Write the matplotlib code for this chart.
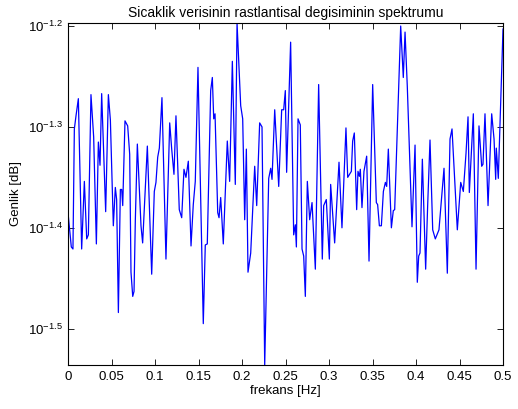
import numpy as np
import matplotlib
matplotlib.use("Agg")
import matplotlib.pyplot as plt

# frequency [Hz] and log10 of amplitude
freq = [0.0000, 0.0038, 0.0057, 0.0073, 0.0092, 0.0119, 0.0157, 0.0188, 0.0215, 0.0234,
        0.0264, 0.0295, 0.0326, 0.0349, 0.0368, 0.0387, 0.0433, 0.0464, 0.0487, 0.0521,
        0.0544, 0.0559, 0.0579, 0.0602, 0.0617, 0.0629, 0.0655, 0.0686, 0.0709, 0.0724,
        0.0744, 0.0759, 0.0774, 0.0797, 0.0839, 0.0858, 0.0912, 0.0962, 0.0992, 0.1011,
        0.1031, 0.1050, 0.1080, 0.1126, 0.1169, 0.1192, 0.1218, 0.1241, 0.1279, 0.1307,
        0.1333, 0.1356, 0.1383, 0.1414, 0.1440, 0.1463, 0.1494, 0.1555, 0.1578, 0.1601,
        0.1640, 0.1659, 0.1675, 0.1690, 0.1721, 0.1736, 0.1755, 0.1785, 0.1831, 0.1858,
        0.1889, 0.1923, 0.1943, 0.1985, 0.2008, 0.2031, 0.2050, 0.2069, 0.2100, 0.2146,
        0.2169, 0.2203, 0.2230, 0.2261, 0.2307, 0.2330, 0.2345, 0.2376, 0.2422, 0.2456,
        0.2479, 0.2498, 0.2513, 0.2559, 0.2594, 0.2613, 0.2625, 0.2644, 0.2670, 0.2690,
        0.2709, 0.2728, 0.2751, 0.2778, 0.2805, 0.2843, 0.2881, 0.2923, 0.2939, 0.2969,
        0.3004, 0.3019, 0.3065, 0.3115, 0.3149, 0.3195, 0.3215, 0.3257, 0.3272, 0.3291,
        0.3318, 0.3333, 0.3349, 0.3360, 0.3379, 0.3402, 0.3433, 0.3460, 0.3502, 0.3544,
        0.3559, 0.3579, 0.3602, 0.3625, 0.3648, 0.3663, 0.3682, 0.3717, 0.3739, 0.3755,
        0.3824, 0.3854, 0.3874, 0.3900, 0.3954, 0.3989, 0.4015, 0.4031, 0.4046, 0.4073,
        0.4111, 0.4134, 0.4161, 0.4192, 0.4222, 0.4264, 0.4322, 0.4360, 0.4391, 0.4414,
        0.4475, 0.4514, 0.4544, 0.4575, 0.4598, 0.4613, 0.4659, 0.4690, 0.4724, 0.4755,
        0.4770, 0.4793, 0.4828, 0.4870, 0.4897, 0.4916, 0.4923, 0.4946, 0.5000]
log_amp = [-1.385, -1.419, -1.421, -1.302, -1.289, -1.272, -1.421, -1.354, -1.411, -1.407,
           -1.268, -1.310, -1.416, -1.315, -1.338, -1.267, -1.384, -1.268, -1.293, -1.398,
           -1.360, -1.372, -1.484, -1.362, -1.362, -1.378, -1.294, -1.299, -1.327, -1.444,
           -1.468, -1.463, -1.392, -1.317, -1.398, -1.415, -1.319, -1.446, -1.364, -1.355,
           -1.330, -1.321, -1.271, -1.431, -1.296, -1.322, -1.347, -1.289, -1.382, -1.390,
           -1.342, -1.350, -1.334, -1.418, -1.377, -1.354, -1.241, -1.495, -1.417, -1.416,
           -1.264, -1.251, -1.292, -1.287, -1.385, -1.390, -1.370, -1.416, -1.314, -1.354,
           -1.235, -1.357, -1.197, -1.279, -1.292, -1.392, -1.322, -1.444, -1.425, -1.339,
           -1.378, -1.296, -1.300, -1.536, -1.351, -1.341, -1.352, -1.283, -1.359, -1.283,
           -1.283, -1.264, -1.345, -1.216, -1.407, -1.397, -1.419, -1.292, -1.298, -1.421,
           -1.428, -1.468, -1.354, -1.392, -1.375, -1.441, -1.258, -1.431, -1.378, -1.372,
           -1.431, -1.357, -1.415, -1.335, -1.400, -1.301, -1.350, -1.344, -1.314, -1.306,
           -1.382, -1.344, -1.349, -1.342, -1.380, -1.344, -1.329, -1.433, -1.258, -1.375,
           -1.377, -1.398, -1.398, -1.364, -1.355, -1.359, -1.322, -1.400, -1.383, -1.382,
           -1.200, -1.251, -1.206, -1.260, -1.399, -1.318, -1.454, -1.428, -1.425, -1.332,
           -1.441, -1.378, -1.313, -1.402, -1.411, -1.402, -1.341, -1.445, -1.312, -1.302,
           -1.402, -1.355, -1.364, -1.326, -1.290, -1.365, -1.287, -1.441, -1.299, -1.339,
           -1.337, -1.287, -1.378, -1.287, -1.312, -1.352, -1.321, -1.351, -1.203]

xticks = [0, 0.05, 0.1, 0.15, 0.2, 0.25, 0.3, 0.35, 0.4, 0.45, 0.5]
xticklabels = ["0", "0.05", "0.1", "0.15", "0.2", "0.25", "0.3", "0.35", "0.4", "0.45", "0.5"]
yexp = [-1.5, -1.4, -1.3, -1.2]

plt.rcParams["font.family"] = ["Liberation Sans", "DejaVu Sans"]
plt.rcParams["mathtext.default"] = "regular"

amp = 10 ** np.array(log_amp)

fig = plt.figure(figsize=(5.18, 4.09), dpi=100)
ax = fig.add_axes([68 / 518, 44 / 409, 435 / 518, 342 / 409])
ax.plot(freq, amp, color="#0000ff", linewidth=0.9)
ax.set_yscale("log")
ax.set_xlim(0, 0.5)
ax.set_ylim(amp.min(), amp.max())

ax.set_xticks(xticks)
ax.set_xticklabels(xticklabels)
ax.set_yticks([10 ** e for e in yexp])
ax.set_yticklabels([r"$10^{%s}$" % e for e in yexp])
ax.yaxis.set_minor_locator(matplotlib.ticker.NullLocator())
ax.tick_params(direction="in", top=True, right=True, length=4, width=0.6,
               labelsize=9.5, pad=4)
for s in ax.spines.values():
    s.set_linewidth(0.8)

ax.set_title("Sicaklik verisinin rastlantisal degisiminin spektrumu", fontsize=10, pad=4)
ax.set_xlabel("frekans [Hz]", fontsize=9.5, labelpad=2)
ax.set_ylabel("Genlik [dB]", fontsize=9.5, labelpad=4)

fig.savefig("out.png", dpi=100)
